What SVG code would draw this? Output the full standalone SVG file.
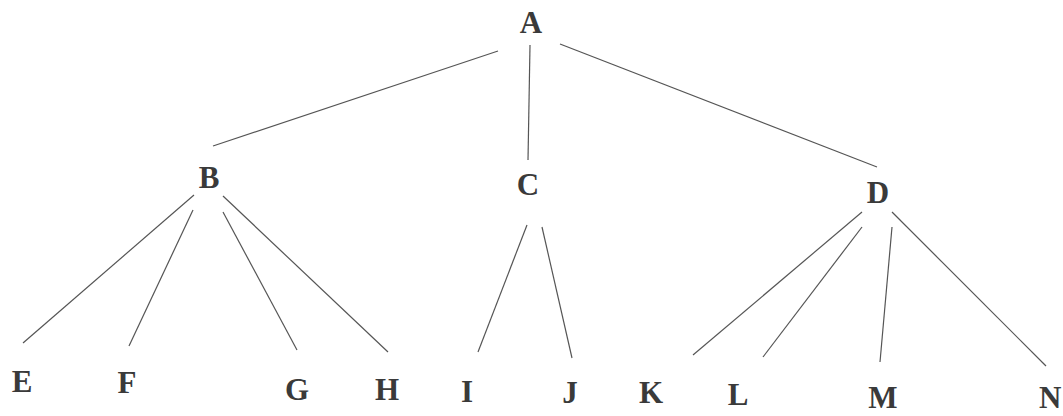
<svg xmlns="http://www.w3.org/2000/svg" width="1063" height="416" viewBox="0 0 1063 416">
<style>
.lbl{font-family:"Liberation Serif","Times New Roman",serif;font-weight:bold;font-size:31px;fill:#3a3a3a;text-anchor:middle}
.edge{stroke:#555;stroke-width:1.2;fill:none}
</style>
<rect width="1063" height="416" fill="#fff"/>
<g id="connectors">
<line class="edge" x1="498" y1="51" x2="213" y2="146"/>
<line class="edge" x1="530" y1="45" x2="528" y2="160"/>
<line class="edge" x1="560" y1="44" x2="877" y2="167"/>
<line class="edge" x1="194" y1="195" x2="23" y2="343"/>
<line class="edge" x1="193" y1="210" x2="129" y2="346"/>
<line class="edge" x1="223" y1="212" x2="297" y2="350"/>
<line class="edge" x1="223" y1="196" x2="388" y2="352"/>
<line class="edge" x1="527" y1="225" x2="478" y2="352"/>
<line class="edge" x1="542" y1="227" x2="572" y2="358"/>
<line class="edge" x1="862" y1="212" x2="693" y2="355"/>
<line class="edge" x1="862" y1="227" x2="763" y2="357"/>
<line class="edge" x1="892" y1="227" x2="880" y2="362"/>
<line class="edge" x1="892" y1="212" x2="1046" y2="366"/>
</g>
<g id="A"><text class="lbl" x="531" y="33">A</text></g>
<g id="B"><text class="lbl" x="209" y="188">B</text></g>
<g id="C"><text class="lbl" x="528" y="195">C</text></g>
<g id="D"><text class="lbl" x="878" y="203">D</text></g>
<g id="E"><text class="lbl" x="22" y="392">E</text></g>
<g id="F"><text class="lbl" x="127" y="393">F</text></g>
<g id="G"><text class="lbl" x="297" y="400">G</text></g>
<g id="H"><text class="lbl" x="387" y="400">H</text></g>
<g id="I"><text class="lbl" x="467" y="402">I</text></g>
<g id="J"><text class="lbl" x="570" y="403">J</text></g>
<g id="K"><text class="lbl" x="651" y="403">K</text></g>
<g id="L"><text class="lbl" x="738" y="405">L</text></g>
<g id="M"><text class="lbl" x="883" y="408">M</text></g>
<g id="N"><text class="lbl" x="1039" y="408" style="text-anchor:start">N</text></g>
</svg>
